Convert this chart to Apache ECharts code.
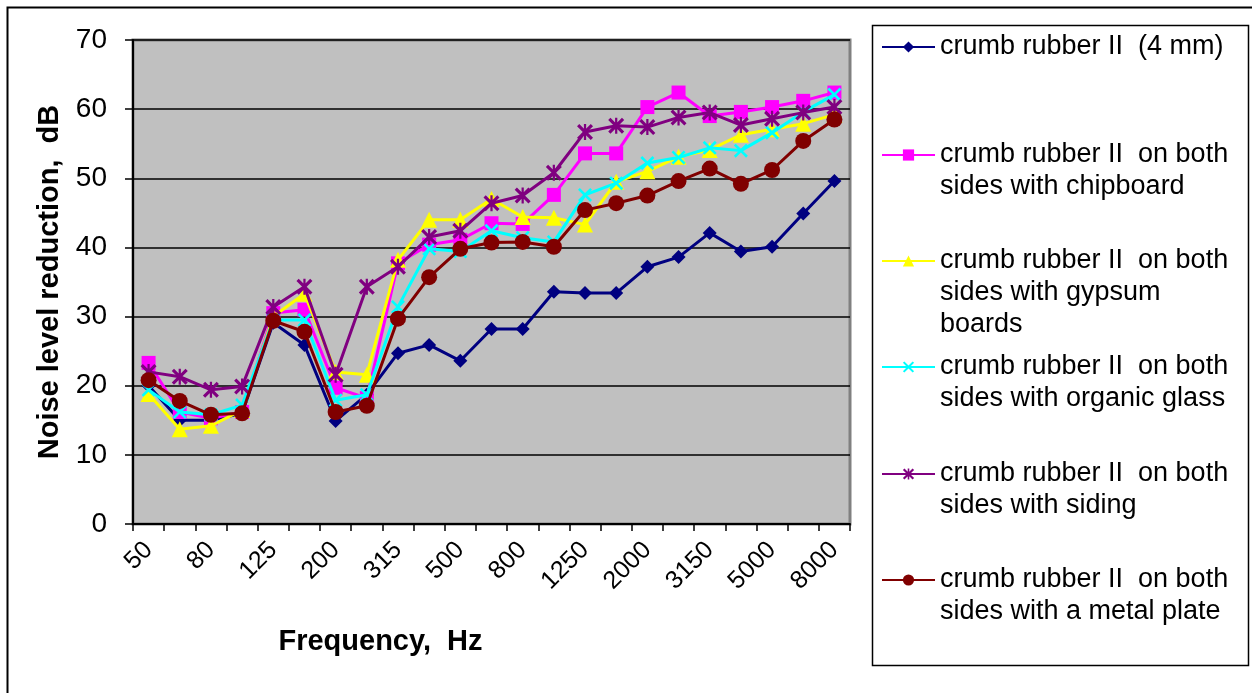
<!DOCTYPE html>
<html>
<head>
<meta charset="utf-8">
<script src="https://cdn.jsdelivr.net/npm/echarts@6/dist/echarts.min.js"></script>
<style>
html,body{margin:0;padding:0;background:#fff;}
#chart{width:1252px;height:693px;}
</style>
</head>
<body>
<div id="chart"></div>
<script>
var categories = ['50','63','80','100','125','160','200','250','315','400','500','630','800','1000','1250','1600','2000','2500','3150','4000','5000','6300','8000'];

var rubber4mm   = [20.0,15.0,15.0,16.0,29.1,25.9,14.9,18.7,24.7,25.9,23.6,28.2,28.2,33.6,33.4,33.4,37.2,38.6,42.1,39.4,40.1,44.9,49.6];
var chipboard   = [23.3,16.2,15.3,16.2,30.5,31.0,19.7,18.2,37.7,40.4,41.1,43.5,43.4,47.6,53.6,53.6,60.3,62.4,59.0,59.6,60.3,61.2,62.4];
var gypsum      = [18.8,13.7,14.2,16.5,30.0,33.3,22.0,21.6,38.2,44.0,44.0,47.0,44.4,44.3,43.3,49.5,51.0,53.1,54.1,56.3,57.1,57.9,59.2];
var organic     = [19.4,16.2,15.8,17.2,29.5,29.5,17.9,18.7,31.4,39.8,39.4,42.4,41.4,40.8,47.6,49.3,52.2,53.0,54.4,54.0,56.6,59.6,62.1];
var siding      = [22.0,21.3,19.4,19.9,31.4,34.3,21.6,34.3,37.2,41.5,42.4,46.4,47.5,50.8,56.7,57.6,57.4,58.8,59.5,57.7,58.6,59.5,60.3];
var metalPlate  = [20.8,17.8,15.8,16.0,29.4,27.8,16.2,17.1,29.7,35.7,39.8,40.7,40.8,40.1,45.4,46.4,47.5,49.6,51.4,49.2,51.2,55.4,58.5];

var yTicks = [0,10,20,30,40,50,60,70];

var legendLines = [
  ['crumb rubber II  (4 mm)'],
  ['crumb rubber II  on both','sides with chipboard'],
  ['crumb rubber II  on both','sides with gypsum','boards'],
  ['crumb rubber II  on both','sides with organic glass'],
  ['crumb rubber II  on both','sides with siding'],
  ['crumb rubber II  on both','sides with a metal plate']
];
var seriesValues = [rubber4mm, chipboard, gypsum, organic, siding, metalPlate];
var colors = ['#000080','#FF00FF','#FFFF00','#00FFFF','#800080','#800000'];
var xPath = 'path://M0,1.3 L1.3,0 L5,3.7 L8.7,0 L10,1.3 L6.3,5 L10,8.7 L8.7,10 L5,6.3 L1.3,10 L0,8.7 L3.7,5 Z';
var starPath = 'path://M0,1.4 L1.4,0 L5,3.6 L8.6,0 L10,1.4 L6.4,5 L10,8.6 L8.6,10 L5,6.4 L1.4,10 L0,8.6 L3.6,5 Z M4.3,0 L5.7,0 L5.7,10 L4.3,10 Z';
var symbols = ['diamond','rect','triangle',xPath,starPath,'circle'];
var symbolSizes = [14,14,16,14,16,16];
var legendIconY = [47,155,261,367,474,580];

var names = legendLines.map(function(l){ return l.join(' '); });
var FONT = '"Liberation Sans", Arial, sans-serif';

var series = seriesValues.map(function(vals, i){
  return {
    name: names[i],
    type: 'line',
    data: vals,
    symbol: symbols[i],
    symbolSize: symbolSizes[i],
    showAllSymbol: true,
    lineStyle: {color: colors[i], width: 3},
    itemStyle: {color: colors[i]},
    z: 2 + i
  };
});

var legends = names.map(function(n, i){
  var lines = legendLines[i].length;
  return {
    data: [n],
    left: 881,
    top: legendIconY[i] - (2*lines-1)*16,
    padding: 0,
    itemWidth: 53,
    itemHeight: 14,
    itemGap: 5,
    selectedMode: false,
    textStyle: {color:'#000', fontSize: 27, fontFamily: FONT, lineHeight: 32},
    formatter: function(name){
      var idx = names.indexOf(name);
      var ls = legendLines[idx];
      var pre = [];
      for (var k=1;k<ls.length;k++) pre.push(' ');
      return pre.concat(ls).join('\n');
    }
  };
});

var chart = echarts.init(document.getElementById('chart'), null, {renderer:'canvas'});
chart.setOption({
  animation: false,
  backgroundColor: '#fff',
  grid: {left:133, top:40, right:402, bottom:169, show:true, backgroundColor:'#C0C0C0', borderColor:'#808080', borderWidth:3},
  xAxis: {
    type: 'category',
    data: categories,
    boundaryGap: true,
    name: 'Frequency,  Hz',
    nameLocation: 'middle',
    nameGap: 103,
    nameTextStyle: {color:'#000', fontSize: 29, fontWeight:'bold', fontFamily: FONT, padding:[0,222,0,0]},
    axisLine: {show:true, lineStyle:{color:'#000', width:2}},
    axisTick: {show:true, interval:0, length:7, lineStyle:{color:'#000', width:1.5}},
    axisLabel: {interval:1, rotate:45, margin:22, color:'#000', fontSize:25, fontFamily: FONT},
    splitLine: {show:false}
  },
  yAxis: {
    type: 'value',
    min: yTicks[0],
    max: yTicks[yTicks.length-1],
    interval: 10,
    name: 'Noise level reduction,  dB',
    nameLocation: 'middle',
    nameGap: 68,
    nameTextStyle: {color:'#000', fontSize: 29, fontWeight:'bold', fontFamily: FONT},
    axisLine: {show:true, lineStyle:{color:'#000', width:2}},
    axisTick: {show:true, length:8, lineStyle:{color:'#000', width:1.5}},
    axisLabel: {margin:26, color:'#000', fontSize:28, fontFamily: FONT},
    splitLine: {show:true, lineStyle:{color:'#000', width:1.5}}
  },
  legend: legends,
  series: series,
  graphic: [
    {type:'rect', shape:{x:7.5, y:7.5, width:1300, height:720}, style:{fill:'none', stroke:'#000', lineWidth:2}, z:0, silent:true},
    {type:'rect', shape:{x:872.5, y:25.5, width:376, height:640}, style:{fill:'none', stroke:'#000', lineWidth:1.5}, z:0, silent:true}
  ]
});
</script>
</body>
</html>
